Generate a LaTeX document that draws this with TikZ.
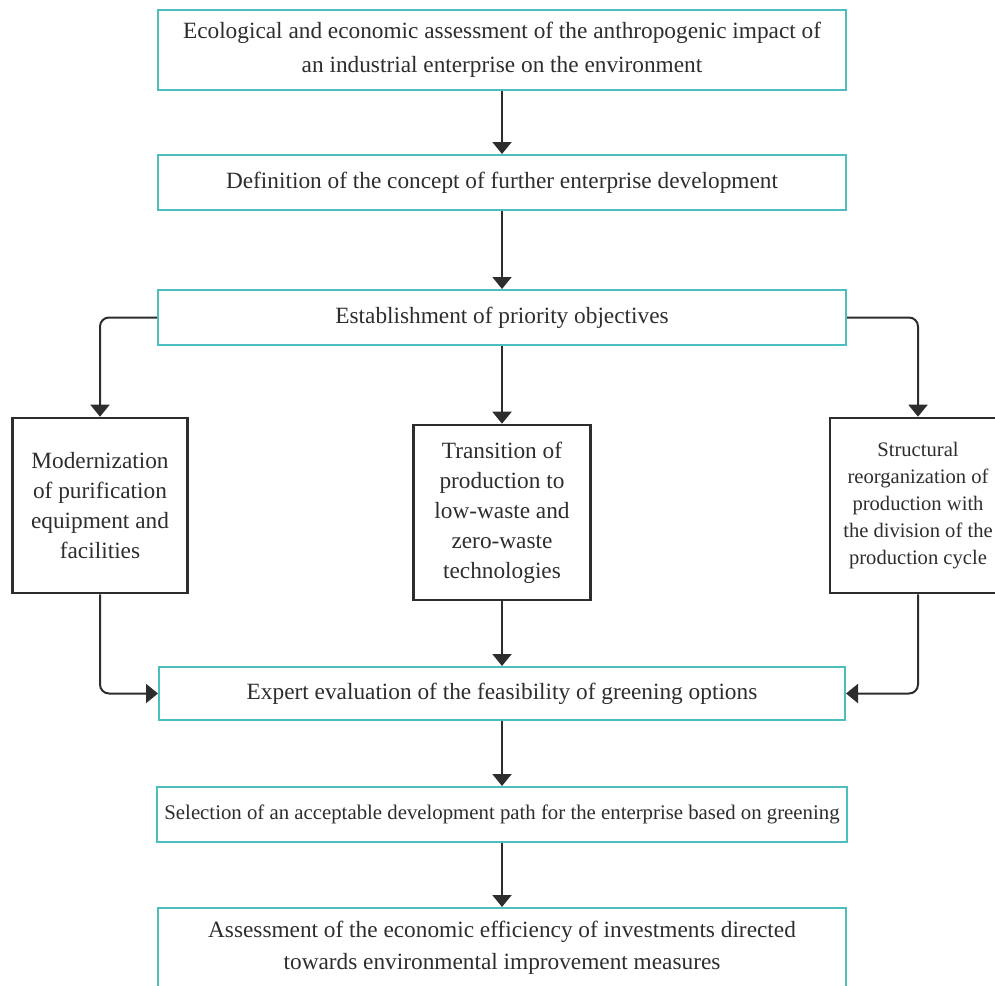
\documentclass[tikz,border=0pt]{standalone}
\usepackage{fontspec}
\setmainfont{Liberation Serif}
\usetikzlibrary{arrows.meta}

\definecolor{tealline}{RGB}{77,190,190}
\definecolor{inkgray}{RGB}{45,45,45}

\tikzset{
  mainbox/.style={draw=tealline, line width=2pt, minimum width=688pt, inner sep=0pt,
    align=center, text=inkgray, font=\fontsize{23.3}{34}\selectfont},
  sidebox/.style={draw=inkgray, line width=2.6pt, minimum height=175pt, inner sep=0pt,
    align=center, text=inkgray, font=\fontsize{23.3}{30}\selectfont},
  arr/.style={-{Triangle[width=19pt, length=12pt]}, line width=2pt, draw=inkgray,
    rounded corners=9pt}
}

\begin{document}
\begin{tikzpicture}[x=1pt, y=-1pt]
  \useasboundingbox (0,0) rectangle (995,985);

  % Main chain
  \node[mainbox, minimum height=80pt] (assess) at (502,50)
    {Ecological and economic assessment of the anthropogenic impact of\\an industrial enterprise on the environment};
  \node[mainbox, minimum height=55pt] (concept) at (502,182.5)
    {Definition of the concept of further enterprise development};
  \node[mainbox, minimum height=55pt] (priority) at (502,317.5)
    {Establishment of priority objectives};

  % Three options
  \node[sidebox, minimum width=175pt] (modern) at (100,505.5)
    {Modernization\\of purification\\equipment and\\facilities};
  \node[sidebox, minimum width=177pt] (transit) at (502,512.5)
    {Transition of\\production to\\low-waste and\\zero-waste\\technologies};
  \node[sidebox, minimum width=176pt, font=\fontsize{20.6}{27}\selectfont] (struct) at (918,505.5)
    {Structural\\reorganization of\\production with\\the division of the\\production cycle};

  % Evaluation and choice
  \node[mainbox, minimum width=686pt, minimum height=53pt] (expert) at (502,693.5)
    {Expert evaluation of the feasibility of greening options};
  \node[mainbox, minimum width=690pt, minimum height=55pt,
    font=\fontsize{20.8}{26}\selectfont] (select) at (502,814.5)
    {Selection of an acceptable development path for the enterprise based on greening};
  \node[mainbox, minimum height=80pt, font=\fontsize{23.3}{32}\selectfont] (invest) at (502,948)
    {Assessment of the economic efficiency of investments directed\\towards environmental improvement measures};

  % Connectors
  \draw[arr] (assess) -- (concept);
  \draw[arr] (concept) -- (priority);
  \draw[arr] (priority.west) -| (modern.north);
  \draw[arr] (priority) -- (transit);
  \draw[arr] (priority.east) -| (struct.north);
  \draw[arr] (modern.south) |- (expert.west);
  \draw[arr] (transit) -- (expert);
  \draw[arr] (struct.south) |- (expert.east);
  \draw[arr] (expert) -- (select);
  \draw[arr] (select) -- (invest);
\end{tikzpicture}
\end{document}
